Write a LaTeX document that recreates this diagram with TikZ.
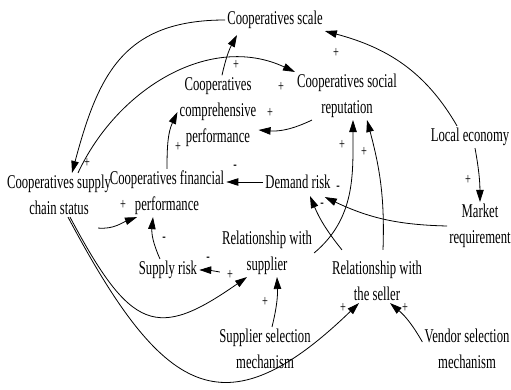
\documentclass[tikz,border=0pt]{standalone}
\usepackage{fontspec}
\setmainfont[FakeStretch=0.65]{Liberation Serif}
\usetikzlibrary{arrows.meta}

\begin{document}
\begin{tikzpicture}[
    x=1pt, y=1pt,
    var/.style={align=center, inner sep=2pt, font=\fontsize{19.5}{26}\selectfont},
    sign/.style={inner sep=0pt, font=\fontsize{16}{18}\selectfont},
    arrow/.style={-{Triangle[length=12pt,width=7.5pt]}, line width=0.8pt}
]
    \useasboundingbox (0,0) rectangle (511,389);

    % variables
    \node[var] (scale) at (275,369) {Cooperatives scale};
    \node[var] (comp) at (218,277) {Cooperatives\\comprehensive\\performance};
    \node[var] (social) at (347,293) {Cooperatives social\\reputation};
    \node[var] (status) at (59,194) {Cooperatives supply\\chain status};
    \node[var] (fin) at (167,196) {Cooperatives financial\\performance};
    \node[var] (demand) at (298,207) {Demand risk};
    \node[var] (local) at (470,252) {Local economy};
    \node[var] (market) at (480,163) {Market\\requirement};
    \node[var] (supplyrisk) at (168,119) {Supply risk};
    \node[var] (relsup) at (267,136) {Relationship with\\supplier};
    \node[var] (relsel) at (377,108) {Relationship with\\the seller};
    \node[var] (supsel) at (265,40) {Supplier selection\\mechanism};
    \node[var] (vensel) at (467,40) {Vendor selection\\mechanism};

    % causal links
    \draw[arrow] (scale.west) to[out=180, in=75, looseness=1.2] ([xshift=13pt]status.north);
    \draw[arrow] ([xshift=19pt]status.north) to[out=65, in=155] (social.north west);
    \draw[arrow] ([xshift=4pt]comp.north) to[bend left=8] ([xshift=-38pt, yshift=-4pt]scale.south);
    \draw[arrow] ([xshift=-35pt]social.south) to[bend left=15] ([yshift=-18pt]comp.east);
    \draw[arrow] (fin.north) to[out=90, in=245] (comp.west);
    \draw[arrow] (demand.west) -- (demand.west -| fin.east);
    \draw[arrow] ([xshift=-13pt]local.north) to[out=120, in=-15] (scale.south east);
    \draw[arrow] ([xshift=5pt]local.south) to[bend left=5] (market.north);
    \draw[arrow] (market.west) to[bend left=12] ([xshift=-8pt, yshift=-6pt]demand.south east);
    \draw[arrow] ([yshift=5pt]relsup.south west) to[bend right=5] (supplyrisk.east);
    \draw[arrow] ([xshift=-8pt]supplyrisk.north) to[bend left=15] ([xshift=-14pt]fin.south);
    \draw[arrow] ([xshift=7pt]supsel.north) to[bend right=8] ([xshift=10pt]relsup.south);
    \draw[arrow] ([xshift=11pt]status.south) .. controls +(-62:130) and +(215:110) .. ([xshift=-20pt]relsup.south);
    \draw[arrow] ([xshift=9pt]status.south) .. controls +(-62:200) and +(224:190) .. ([xshift=-18pt]relsel.south);
    \draw[arrow] (relsup.east) to[out=40, in=-90] ([xshift=6pt]social.south);
    \draw[arrow] ([xshift=-35pt, yshift=9pt]relsel.north) to[bend left=8] ([xshift=12pt, yshift=-5pt]demand.south);
    \draw[arrow] ([xshift=6pt, yshift=9pt]relsel.north) to[out=88, in=-75] ([xshift=20pt]social.south);
    \draw[arrow] ([yshift=7pt]vensel.west) to[bend right=10] ([xshift=13pt]relsel.south);
    \draw[arrow] ([xshift=-15pt, yshift=-11pt]status.south east) to[out=-5, in=200] ([xshift=-30pt]fin.south);

    % polarities
    \node[sign] (p1) at (87,226) {+};
    \node[sign] (p2) at (236,324) {+};
    \node[sign] (p3) at (281,302) {+};
    \node[sign] (p4) at (336,336) {+};
    \node[sign] (p5) at (270,276) {+};
    \node[sign] (p6) at (178,242) {+};
    \node[sign] (p7) at (235,222) {-};
    \node[sign] (p8) at (468,209) {+};
    \node[sign] (p9) at (338,201) {-};
    \node[sign] (p10) at (322,184) {-};
    \node[sign] (p11) at (342,244) {+};
    \node[sign] (p12) at (364,237) {+};
    \node[sign] (p13) at (123,184) {+};
    \node[sign] (p14) at (164,150) {-};
    \node[sign] (p15) at (208,130) {-};
    \node[sign] (p16) at (230,114) {+};
    \node[sign] (p17) at (265,87) {+};
    \node[sign] (p18) at (343,81) {+};
    \node[sign] (p19) at (405,81) {+};
\end{tikzpicture}
\end{document}
